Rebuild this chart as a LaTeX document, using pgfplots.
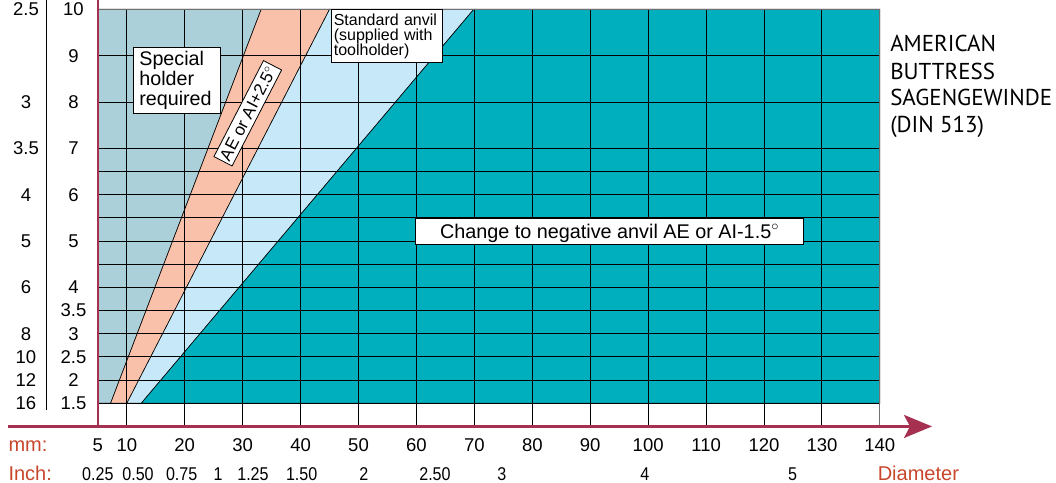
\documentclass[border=0pt]{standalone}
\usepackage{fontspec}
\setmainfont{Liberation Sans}
\newfontfamily\ptsans{PT Sans}
\usepackage{graphicx}
\usepackage{pgfplots}
\pgfplotsset{compat=1.18}
\usetikzlibrary{arrows.meta}
\definecolor{cgrey}{HTML}{ABD0DA}
\definecolor{csalmon}{HTML}{F9C1A9}
\definecolor{clblue}{HTML}{C6E8F8}
\definecolor{cteal}{HTML}{00AFBD}
\definecolor{caxis}{HTML}{A6304F}
\definecolor{corange}{HTML}{C8462B}
\definecolor{cborder}{HTML}{707070}
\newcommand\lbl{\fontsize{18.5bp}{22bp}\selectfont}
\newcommand\inch[1]{\scalebox{0.87}[1]{#1}}
\begin{document}
\begin{tikzpicture}
\begin{axis}[
 scale only axis, width=782bp, height=417.15bp,
 xmin=5, xmax=140, ymin=1, ymax=10,
 axis line style={draw=none},
 major tick length=0pt,
 clip=false,
 /pgf/number format/assume math mode=true,
 xtick={5,10,20,30,40,50,60,70,80,90,100,110,120,130,140},
 xticklabels={5,10,20,30,40,50,60,70,80,90,100,110,120,130,140},
 xticklabel style={font=\lbl, anchor=base, inner sep=0pt, yshift=-25bp},
 ytick={1.5,2,2.5,3,3.5,4,5,6,7,8,9,10},
 yticklabels={1.5,2,2.5,3,3.5,4,5,6,7,8,9,10},
 yticklabel style={font=\lbl, anchor=center, inner sep=0pt, xshift=-24.4bp},
 extra x ticks={5,11.93,19.47,25.74,31.78,40.19,50.94,63.20,74.76,99.45,124.92},
 extra x tick labels={\inch{0.25},\inch{0.50},\inch{0.75},\inch{1},\inch{1.25},\inch{1.50},\inch{2},\inch{2.50},\inch{3},\inch{4},\inch{5}},
 extra x tick style={xticklabel style={yshift=-29bp}},
 extra y ticks={10,8,7,6,5,4,3,2.5,2,1.5},
 extra y tick labels={2.5,3,3.5,4,5,6,8,10,12,16},
 extra y tick style={yticklabel style={xshift=-47.5bp}},
]
% regions
\addplot[fill=cgrey, draw=black, line width=0.6bp] coordinates {(5,1.5) (7.2,1.5) (33.2,10) (5,10)} -- cycle;
\addplot[fill=csalmon, draw=black, line width=0.6bp] coordinates {(7.2,1.5) (10,1.5) (45,10) (33.2,10)} -- cycle;
\addplot[fill=clblue, draw=black, line width=0.6bp] coordinates {(10,1.5) (12.5,1.5) (69.9,10) (45,10)} -- cycle;
\addplot[fill=cteal, draw=black, line width=0.6bp] coordinates {(12.5,1.5) (140,1.5) (140,10) (69.9,10)} -- cycle;
% grid
\pgfplotsinvokeforeach{10,20,30,40,50,60,70,80,90,100,110,120,130}{
 \addplot[black, line width=0.9bp] coordinates {(#1,1) (#1,10)};
}
\pgfplotsinvokeforeach{1.5,2,2.5,3,3.5,4,4.5,5,5.5,6,6.5,7,8,9}{
 \addplot[black, line width=0.9bp] coordinates {(5,#1) (140,#1)};
}
\addplot[cborder, line width=1.1bp] coordinates {(140,1) (140,10)};
\addplot[cborder, line width=1.1bp] coordinates {(5,10) (140,10)};
% axes
\draw[black, line width=1bp] (axis cs:-3.95,1.355) -- (axis cs:-3.95,10.2);
\draw[caxis, line width=2.2bp] (axis cs:5,1) -- (axis cs:5,10.2006);
\draw[caxis, line width=2.5bp, -{Stealth[length=28bp,width=23bp,inset=6bp]}] (axis cs:-10.46,1) -- (axis cs:149.0,1);
% labels
\node[anchor=base west, inner sep=0pt, text=corange, font=\fontsize{20bp}{24bp}\selectfont] at (axis cs:-10.46,0.455) {mm:};
\node[anchor=base west, inner sep=0pt, text=corange, font=\fontsize{20bp}{24bp}\selectfont] at (axis cs:-10.46,-0.170) {Inch:};
\node[anchor=base west, inner sep=0pt, text=corange, font=\fontsize{20bp}{24bp}\selectfont] at (axis cs:139.61,-0.170) {Diameter};
% boxes
\node[draw=black, fill=white, line width=0.8bp, anchor=north west, inner xsep=6.3bp, inner ysep=4bp, text width=74.7bp, align=left, font=\fontsize{19.7bp}{19.7bp}\selectfont] at (axis cs:11.01,9.18) {Special\\holder\\required};
\node[draw=black, fill=white, line width=0.8bp, anchor=north west, inner xsep=2.7bp, inner ysep=4bp, text width=105.6bp, align=left, font=\fontsize{16bp}{15bp}\selectfont] at (axis cs:45.20,10) {Standard anvil\\(supplied with\\toolholder)};
\node[draw=black, fill=white, line width=0.8bp, inner sep=0pt, minimum width=387.6bp, minimum height=26bp, text height=14bp, text depth=0bp, font=\fontsize{19.8bp}{22bp}\selectfont] at (axis cs:93.33,5.21) {Change to negative anvil AE or AI-1.5$^{\circ}$};
\node[draw=black, fill=white, line width=0.8bp, inner sep=0pt, rotate=62.7, minimum width=108bp, minimum height=20.4bp, text height=12.2bp, text depth=0bp, font=\fontsize{17bp}{20bp}\selectfont] at (axis cs:30.88,7.756) {AE or AI+2.5$^{\circ}$};
% right title
\node[anchor=base west, inner sep=0pt, font=\ptsans\fontsize{23bp}{27bp}\selectfont] at (axis cs:141.76,9.079) {AMERICAN};
\node[anchor=base west, inner sep=0pt, font=\ptsans\fontsize{23bp}{27bp}\selectfont] at (axis cs:141.76,8.496) {BUTTRESS};
\node[anchor=base west, inner sep=0pt, font=\ptsans\fontsize{23bp}{27bp}\selectfont] at (axis cs:141.76,7.914) {SAGENGEWINDE};
\node[anchor=base west, inner sep=0pt, font=\ptsans\fontsize{23bp}{27bp}\selectfont] at (axis cs:141.76,7.331) {(DIN 513)};
\coordinate (bl) at (axis cs:-11.894,-0.220);
\coordinate (tr) at (axis cs:170.41,10.2006);
\end{axis}
\pgfresetboundingbox
\path (bl) rectangle (tr);
\end{tikzpicture}
\end{document}
